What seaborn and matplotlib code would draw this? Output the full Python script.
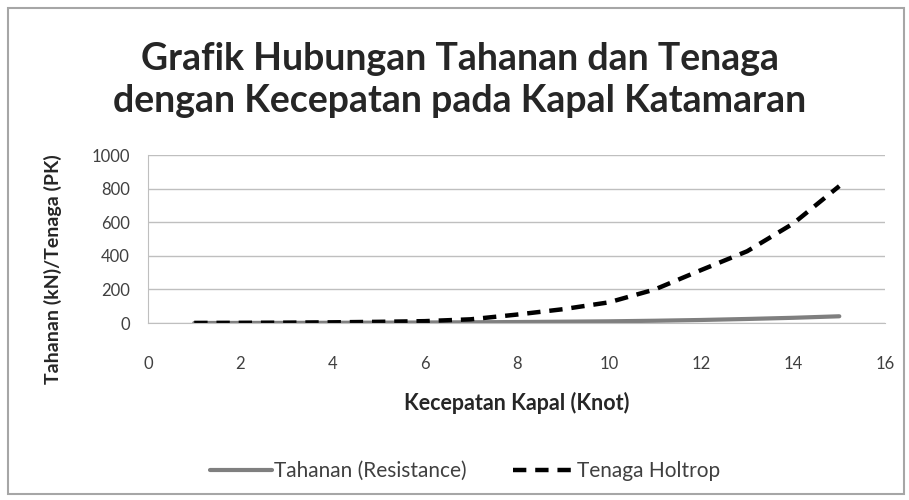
import numpy as np
import pandas as pd
import matplotlib
matplotlib.use("Agg")
import matplotlib.pyplot as plt
from matplotlib.patches import Rectangle
import seaborn as sns

# Data
kecepatan = [1, 2, 3, 4, 5, 6, 7, 8, 9, 10, 11, 12, 13, 14, 15]
tahanan = [0.1, 0.4, 0.8, 1.4, 2.1, 3.0, 4.2, 5.8, 7.8, 10, 13.5, 18, 24, 31, 40]
tenaga = [0.3, 1, 2, 4, 7, 11, 22, 50, 82, 123, 200, 315, 427, 592, 815]

df = pd.DataFrame({"kecepatan": kecepatan, "Tahanan (Resistance)": tahanan,
                   "Tenaga Holtrop": tenaga})

sns.set_style("white")
plt.rcParams['font.family'] = ['Lato', 'DejaVu Sans']

fig = plt.figure(figsize=(9.09, 5), dpi=100)
ax = fig.add_axes([0.163, 0.354, 0.811, 0.336])

sns.lineplot(data=df, x="kecepatan", y="Tahanan (Resistance)", ax=ax,
             color="#7f7f7f", linewidth=3, label="Tahanan (Resistance)")
sns.lineplot(data=df, x="kecepatan", y="Tenaga Holtrop", ax=ax,
             color="black", linewidth=3.2, linestyle=(0, (3, 2)), label="Tenaga Holtrop")

ax.set_xlim(0, 16)
ax.set_ylim(0, 1000)
ax.set_xticks(range(0, 17, 2))
ax.set_yticks(range(0, 1001, 200))
ax.yaxis.grid(True, color="#bfbfbf", linewidth=1)
for s in ["top", "right"]:
    ax.spines[s].set_visible(False)
ax.spines["left"].set_color("#bfbfbf")
ax.spines["bottom"].set_color("#bfbfbf")
ax.tick_params(axis="y", length=5, color="#bfbfbf", labelsize=12, labelcolor="#404040", pad=8)
ax.tick_params(axis="x", length=0, labelsize=12, labelcolor="#404040", pad=24)

ax.set_xlabel("Kecepatan Kapal (Knot)", fontsize=15.5, fontweight="bold", labelpad=14)
ax.set_ylabel("Tahanan (kN)/Tenaga (PK)", fontsize=14, fontweight="bold")
ax.yaxis.set_label_coords(-0.117, 0.32)

fig.text(0.506, 0.84, "Grafik Hubungan Tahanan dan Tenaga\ndengan Kecepatan pada Kapal Katamaran",
         ha="center", va="center", fontsize=27, fontweight="bold", linespacing=1.3)

ax.legend(loc="upper center", bbox_to_anchor=(0.43, -0.71), ncol=2, frameon=False,
          fontsize=15, handlelength=3.0, handletextpad=0.1, columnspacing=2.2,
          labelcolor="#404040")

fig.patches.append(Rectangle((0.009, 0.012), 0.985, 0.972, transform=fig.transFigure,
                             fill=False, edgecolor="#a6a6a6", linewidth=1.5))

fig.savefig("out.png", dpi=100)
